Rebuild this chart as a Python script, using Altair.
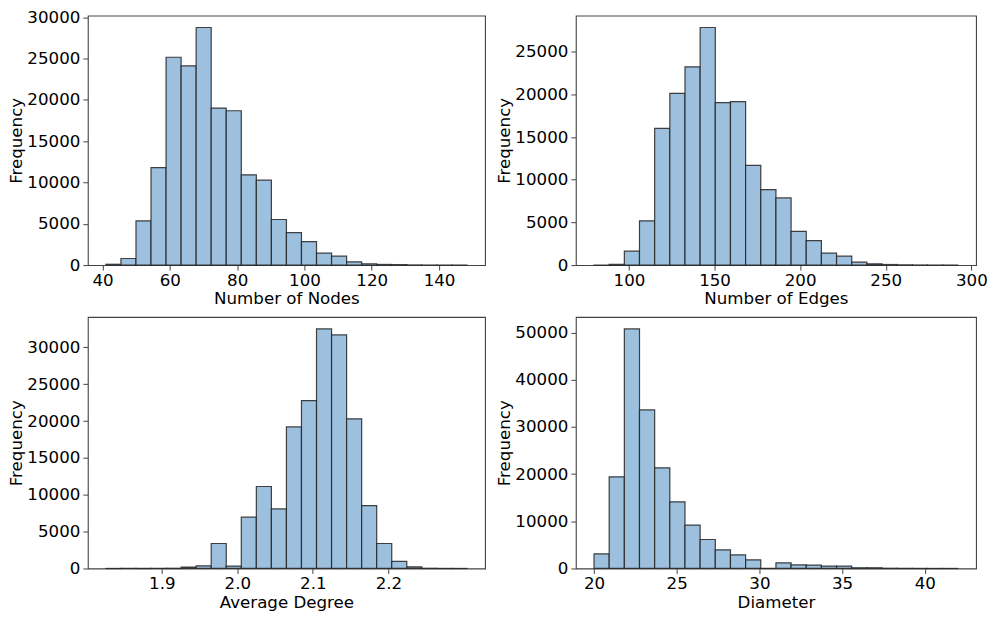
import altair as alt
import pandas as pd

# ---- data ----
nodes_range = [41.0, 148.3]
nodes_counts = [100, 800, 5360, 11800, 25160, 24120, 28760, 19000, 18680, 10920,
                10280, 5520, 3920, 2840, 1440, 1080, 400, 160, 80, 60, 20, 10, 5, 5]

edges_range = [79.6, 292.1]
edges_counts = [10, 80, 1630, 5190, 16010, 20120, 23220, 27830, 19030, 19150,
                11670, 8840, 7870, 3950, 2870, 1400, 1050, 350, 150, 70, 30, 15, 5, 5]

deg_range = [1.826, 2.304]
deg_counts = [5, 10, 15, 20, 30, 180, 360, 3390, 320, 6960, 11120, 8090, 19210,
              22780, 32500, 31690, 20300, 8540, 3390, 950, 230, 30, 10, 5]

diam_range = [20.0, 42.0]
diam_counts = [3110, 19420, 50760, 33600, 21320, 14120, 9180, 6140, 3950, 2890,
               1840, 0, 1200, 780, 700, 500, 480, 150, 150, 50, 30, 20, 10, 10]

x_titles = ["Number of Nodes", "Number of Edges", "Average Degree", "Diameter"]
x_ticks = [[40, 60, 80, 100, 120, 140],
           [100, 150, 200, 250, 300],
           [1.9, 2.0, 2.1, 2.2],
           [20, 25, 30, 35, 40]]
x_formats = ["d", "d", ".1f", "d"]
y_ticks = [[0, 5000, 10000, 15000, 20000, 25000, 30000],
           [0, 5000, 10000, 15000, 20000, 25000],
           [0, 5000, 10000, 15000, 20000, 25000, 30000],
           [0, 10000, 20000, 30000, 40000, 50000]]

FILL = "#9dc0de"
FONT = "DejaVu Sans"
FS = 16.7


def make_df(rng, counts):
    n = len(counts)
    w = (rng[1] - rng[0]) / n
    return pd.DataFrame({
        "start": [rng[0] + i * w for i in range(n)],
        "end": [rng[0] + (i + 1) * w for i in range(n)],
        "count": counts,
        "base": [0] * n,
    })


def panel(rng, counts, title, xt, xf, yt, width, height):
    df = make_df(rng, counts)
    span = rng[1] - rng[0]
    xdom = [rng[0] - 0.05 * span, rng[1] + 0.05 * span]
    ydom = [0, max(counts) * 1.05]
    return alt.Chart(df).mark_rect(
        fill=FILL, stroke="#222222", strokeWidth=1.2, strokeOpacity=0.85
    ).encode(
        x=alt.X("start:Q", scale=alt.Scale(domain=xdom, nice=False, zero=False),
                axis=alt.Axis(title=title, values=xt, format=xf)),
        x2="end:Q",
        y=alt.Y("count:Q", scale=alt.Scale(domain=ydom, nice=False),
                axis=alt.Axis(title="Frequency", values=yt, format="d")),
        y2="base:Q",
    ).properties(width=width, height=height)


p1 = panel(nodes_range, nodes_counts, x_titles[0], x_ticks[0], x_formats[0], y_ticks[0], 398, 250)
p2 = panel(edges_range, edges_counts, x_titles[1], x_ticks[1], x_formats[1], y_ticks[1], 401, 250)
p3 = panel(deg_range, deg_counts, x_titles[2], x_ticks[2], x_formats[2], y_ticks[2], 398, 252)
p4 = panel(diam_range, diam_counts, x_titles[3], x_ticks[3], x_formats[3], y_ticks[3], 401, 252)

chart = alt.vconcat(
    alt.hconcat(p1, p2, spacing=10),
    alt.hconcat(p3, p4, spacing=10),
    spacing=8,
    background="white",
    padding=0,
).configure_view(
    stroke="#444444", strokeWidth=1.1
).configure_axis(
    labelFont=FONT, titleFont=FONT, labelFontSize=FS, titleFontSize=FS,
    labelColor="black", titleColor="black", titleFontWeight="normal",
    tickColor="#444444", tickSize=5, tickWidth=1, domain=False, grid=False,
    labelPadding=3,
).configure_axisX(
    titlePadding=2, labelPadding=2,
).configure_axisY(
    titlePadding=1,
)

chart.save("out.html", embed_options={"renderer": "svg", "actions": False})
